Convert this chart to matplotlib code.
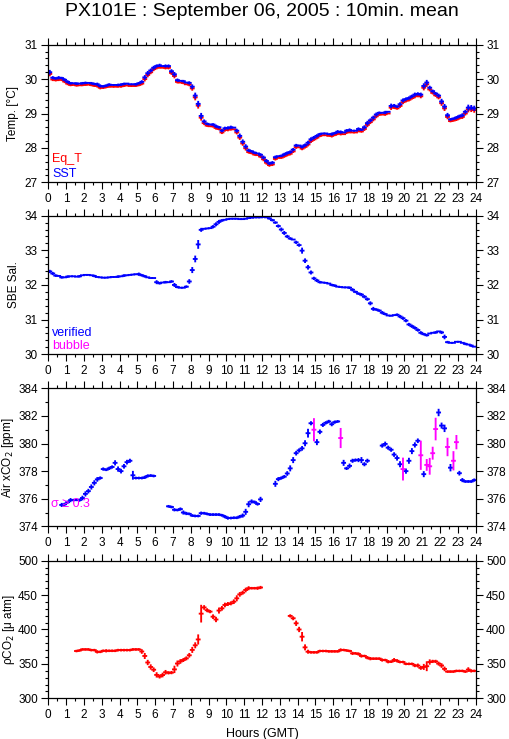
import numpy as np
import matplotlib
matplotlib.use("Agg")
import matplotlib.pyplot as plt
from matplotlib.ticker import MultipleLocator, FormatStrFormatter

plt.rcParams['font.family'] = ['Liberation Sans', 'DejaVu Sans']

# ---------------- data (10-minute means, 144 bins per day) ----------------
hours = np.arange(144) / 6 + 1 / 12      # bin centres in hours (GMT)
half_bin = 1 / 12                         # +/- 5 minutes
nan = np.nan

sst = [30.20, 30.04, 30.02, 30.04, 30.03, 29.98,
       29.92, 29.88, 29.88, 29.87, 29.87, 29.88,
       29.89, 29.89, 29.88, 29.86, 29.85, 29.80,
       29.79, 29.81, 29.84, 29.83, 29.83, 29.83,
       29.84, 29.86, 29.87, 29.85, 29.85, 29.85,
       29.88, 29.92, 30.05, 30.17, 30.25, 30.33,
       30.38, 30.40, 30.38, 30.38, 30.38, 30.23,
       30.14, 29.97, 29.95, 29.94, 29.90, 29.89,
       29.78, 29.52, 29.28, 28.93, 28.77, 28.70,
       28.68, 28.68, 28.63, 28.60, 28.50, 28.57,
       28.58, 28.60, 28.59, 28.50, 28.35, 28.18,
       28.04, 27.93, 27.90, 27.86, 27.84, 27.80,
       27.72, 27.62, 27.55, 27.57, 27.73, 27.76,
       27.77, 27.81, 27.85, 27.88, 27.95, 28.07,
       28.07, 28.03, 28.08, 28.15, 28.25, 28.30,
       28.35, 28.40, 28.42, 28.42, 28.40, 28.40,
       28.43, 28.47, 28.46, 28.45, 28.50, 28.52,
       28.50, 28.50, 28.55, 28.53, 28.60, 28.72,
       28.80, 28.88, 28.97, 29.02, 29.02, 29.03,
       29.05, 29.22, 29.23, 29.20, 29.27, 29.38,
       29.42, 29.45, 29.50, 29.55, 29.57, 29.55,
       29.80, 29.90, 29.75, 29.65, 29.58, 29.52,
       29.35, 29.20, 28.95, 28.83, 28.85, 28.88,
       28.92, 28.95, 29.05, 29.17, 29.17, 29.15]

eq_t = [30.15, 29.99, 29.97, 29.99, 29.98, 29.93,
        29.87, 29.83, 29.83, 29.82, 29.82, 29.83,
        29.84, 29.84, 29.83, 29.81, 29.80, 29.75,
        29.75, 29.77, 29.79, 29.78, 29.78, 29.79,
        29.79, 29.81, 29.82, 29.80, 29.80, 29.81,
        29.83, 29.87, 30.00, 30.12, 30.20, 30.29,
        30.33, 30.35, 30.33, 30.33, 30.33, 30.18,
        30.09, 29.92, 29.90, 29.89, 29.85, 29.84,
        29.73, 29.47, 29.23, 28.88, 28.72, 28.65,
        28.63, 28.63, 28.58, 28.55, 28.45, 28.52,
        28.53, 28.55, 28.54, 28.45, 28.30, 28.13,
        27.99, 27.88, 27.85, 27.81, 27.79, 27.75,
        27.67, 27.57, 27.50, 27.52, 27.68, 27.71,
        27.72, 27.76, 27.80, 27.83, 27.90, 28.02,
        28.02, 27.98, 28.03, 28.10, 28.20, 28.25,
        28.30, 28.35, 28.37, 28.37, 28.35, 28.35,
        28.38, 28.42, 28.41, 28.40, 28.45, 28.47,
        28.45, 28.45, 28.50, 28.48, 28.55, 28.67,
        28.75, 28.83, 28.92, 28.97, 28.97, 28.98,
        29.00, 29.17, 29.18, 29.15, 29.22, 29.33,
        29.37, 29.40, 29.45, 29.50, 29.52, 29.50,
        29.75, 29.85, 29.70, 29.60, 29.53, 29.47,
        29.30, 29.15, 28.90, 28.78, 28.80, 28.83,
        28.87, 28.90, 29.00, 29.12, 29.12, 29.10]

temp_err = [0.04, 0.02, 0.01, 0.02, 0.01, 0.02,
            0.02, 0.01, 0.00, 0.01, 0.00, 0.01,
            0.01, 0.00, 0.01, 0.01, 0.02, 0.02,
            0.01, 0.01, 0.01, 0.00, 0.00, 0.01,
            0.01, 0.01, 0.00, 0.00, 0.00, 0.01,
            0.01, 0.02, 0.04, 0.04, 0.03, 0.03,
            0.02, 0.02, 0.00, 0.02, 0.02, 0.03,
            0.04, 0.02, 0.00, 0.01, 0.00, 0.02,
            0.04, 0.06, 0.06, 0.06, 0.03, 0.01,
            0.00, 0.01, 0.02, 0.01, 0.02, 0.02,
            0.02, 0.02, 0.00, 0.03, 0.04, 0.04,
            0.04, 0.02, 0.01, 0.01, 0.00, 0.02,
            0.03, 0.03, 0.02, 0.02, 0.02, 0.00,
            0.01, 0.02, 0.02, 0.02, 0.02, 0.02,
            0.00, 0.02, 0.02, 0.03, 0.03, 0.02,
            0.02, 0.01, 0.00, 0.00, 0.00, 0.02,
            0.01, 0.02, 0.02, 0.00, 0.02, 0.02,
            0.00, 0.00, 0.02, 0.01, 0.03, 0.04,
            0.03, 0.03, 0.03, 0.01, 0.00, 0.02,
            0.00, 0.04, 0.02, 0.01, 0.03, 0.03,
            0.02, 0.02, 0.02, 0.03, 0.02, 0.03,
            0.05, 0.05, 0.03, 0.02, 0.02, 0.03,
            0.05, 0.05, 0.04, 0.01, 0.01, 0.02,
            0.02, 0.03, 0.03, 0.06, 0.05, 0.05]

sal = [32.39, 32.33, 32.27, 32.26, 32.22, 32.22,
       32.24, 32.25, 32.25, 32.24, 32.25, 32.28,
       32.29, 32.29, 32.28, 32.26, 32.23, 32.22,
       32.21, 32.21, 32.22, 32.23, 32.23, 32.24,
       32.25, 32.27, 32.28, 32.29, 32.30, 32.31,
       32.31, 32.28, 32.25, 32.22, 32.20, 32.20,
       32.08, 32.05, 32.07, 32.08, 32.08, 32.10,
       32.00, 31.94, 31.92, 31.92, 31.95, 32.10,
       32.43, 32.75, 33.17, 33.59, 33.62, 33.63,
       33.64, 33.68, 33.75, 33.82, 33.86, 33.88,
       33.90, 33.91, 33.91, 33.91, 33.90, 33.90,
       33.91, 33.93, 33.94, 33.95, 33.95, 33.95,
       33.96, 33.95, 33.92, 33.87, 33.80, 33.70,
       33.60, 33.50, 33.40, 33.34, 33.31, 33.23,
       33.15, 32.99, 32.70, 32.51, 32.36, 32.19,
       32.13, 32.08, 32.07, 32.06, 32.04, 32.00,
       31.98, 31.95, 31.94, 31.93, 31.93, 31.92,
       31.86, 31.80, 31.75, 31.72, 31.66, 31.59,
       31.47, 31.31, 31.29, 31.26, 31.20, 31.16,
       31.12, 31.11, 31.13, 31.14, 31.09, 31.04,
       30.97, 30.86, 30.81, 30.76, 30.70, 30.62,
       30.58, 30.55, 30.60, 30.62, 30.63, 30.66,
       30.63, 30.50, 30.35, 30.33, 30.33, 30.36,
       30.36, 30.33, 30.30, 30.28, 30.25, 30.22]

sal_err = [0.02, 0.02, 0.01, 0.00, 0.01, 0.00,
           0.01, 0.00, 0.00, 0.00, 0.01, 0.00,
           0.00, 0.00, 0.00, 0.01, 0.00, 0.00,
           0.00, 0.00, 0.00, 0.00, 0.00, 0.01,
           0.00, 0.01, 0.00, 0.00, 0.00, 0.00,
           0.02, 0.01, 0.01, 0.00, 0.00, 0.00,
           0.03, 0.01, 0.00, 0.01, 0.00, 0.01,
           0.03, 0.01, 0.00, 0.00, 0.01, 0.04,
           0.06, 0.07, 0.10, 0.03, 0.00, 0.00,
           0.00, 0.02, 0.03, 0.03, 0.01, 0.00,
           0.00, 0.00, 0.00, 0.00, 0.00, 0.00,
           0.00, 0.00, 0.00, 0.00, 0.00, 0.00,
           0.00, 0.00, 0.01, 0.01, 0.01, 0.02,
           0.03, 0.03, 0.02, 0.01, 0.00, 0.02,
           0.02, 0.06, 0.04, 0.04, 0.03, 0.02,
           0.02, 0.01, 0.00, 0.00, 0.00, 0.01,
           0.01, 0.00, 0.00, 0.00, 0.00, 0.01,
           0.02, 0.01, 0.01, 0.02, 0.02, 0.02,
           0.03, 0.03, 0.01, 0.01, 0.02, 0.01,
           0.00, 0.00, 0.00, 0.01, 0.02, 0.02,
           0.02, 0.02, 0.02, 0.02, 0.02, 0.02,
           0.01, 0.01, 0.00, 0.00, 0.01, 0.00,
           0.02, 0.04, 0.01, 0.00, 0.00, 0.00,
           0.00, 0.00, 0.01, 0.00, 0.01, 0.00]

xco2 = [nan, nan, nan, nan, 375.55, 375.60,
        375.75, 375.90, 375.90, 375.92, 375.90, 376.05,
        376.35, 376.55, 376.85, 377.15, 377.40, 377.50,
        378.15, 378.10, 378.20, 378.30, 378.60, 378.15,
        378.00, 378.35, 378.65, 378.75, 377.70, 377.50,
        377.50, 377.50, 377.55, 377.65, 377.68, 377.65,
        nan, nan, nan, nan, 375.45, 375.40,
        375.20, 375.18, 375.25, 375.00, 374.93, 374.90,
        374.78, 374.75, 374.75, 374.95, 374.95, 374.90,
        374.85, 374.85, 374.85, 374.85, 374.80, 374.70,
        374.60, 374.60, 374.62, 374.62, 374.70, 374.78,
        375.05, 375.60, 375.80, 375.75, 375.62, 375.95,
        nan, nan, nan, nan, 377.08, 377.42,
        377.50, 377.60, 377.83, 378.20, 378.80, 379.30,
        379.50, 379.65, 380.02, 380.75, 381.47, 381.00,
        380.10, 380.85, 381.35, 381.50, 381.60, 381.40,
        381.55, 381.60, 380.40, 378.60, 378.20, 378.38,
        378.75, 378.80, 378.80, 378.80, 378.50, 378.75,
        nan, nan, nan, nan, 379.85, 379.97,
        379.70, 379.55, 379.20, 378.95, 378.50, 378.15,
        378.00, 378.75, 379.45, 379.90, 380.20, 379.15,
        377.78, 378.45, 378.35, 379.30, 381.05, 382.25,
        381.30, 381.10, 379.75, 378.25, 378.75, 380.10,
        377.85, 377.35, 377.25, 377.25, 377.25, 377.35]

xco2_err = [0.00, 0.00, 0.00, 0.00, 0.08, 0.05,
            0.05, 0.08, 0.03, 0.03, 0.05, 0.10,
            0.12, 0.10, 0.12, 0.12, 0.10, 0.05,
            0.05, 0.03, 0.05, 0.05, 0.12, 0.12,
            0.10, 0.10, 0.10, 0.08, 0.25, 0.03,
            0.03, 0.03, 0.05, 0.05, 0.03, 0.03,
            0.00, 0.00, 0.00, 0.00, 0.03, 0.03,
            0.05, 0.03, 0.05, 0.08, 0.05, 0.03,
            0.03, 0.03, 0.03, 0.05, 0.03, 0.03,
            0.03, 0.03, 0.03, 0.03, 0.03, 0.05,
            0.05, 0.03, 0.03, 0.03, 0.05, 0.08,
            0.15, 0.15, 0.08, 0.05, 0.05, 0.12,
            0.00, 0.00, 0.00, 0.00, 0.15, 0.08,
            0.05, 0.05, 0.10, 0.15, 0.15, 0.10,
            0.08, 0.10, 0.15, 0.25, 0.08, 0.77,
            0.15, 0.10, 0.08, 0.05, 0.05, 0.08,
            0.05, 0.03, 0.66, 0.15, 0.05, 0.10,
            0.08, 0.05, 0.08, 0.15, 0.08, 0.08,
            0.00, 0.00, 0.00, 0.00, 0.08, 0.10,
            0.08, 0.08, 0.10, 0.12, 0.15, 0.76,
            0.12, 0.15, 0.15, 0.12, 0.10, 0.99,
            0.15, 0.36, 0.54, 0.40, 0.75, 0.20,
            0.15, 0.20, 0.60, 0.20, 0.63, 0.45,
            0.10, 0.08, 0.03, 0.03, 0.03, 0.05]

pco2 = [nan, nan, nan, nan, nan, nan,
        nan, nan, nan, 368.7, 369.5, 371.0,
        371.0, 371.0, 370.0, 370.0, 367.5, 367.5,
        369.0, 369.0, 369.0, 369.0, 369.0, 370.0,
        370.0, 370.0, 370.0, 370.0, 371.0, 371.0,
        371.0, 368.0, 361.5, 352.0, 345.5, 341.5,
        334.0, 331.6, 333.8, 337.8, 337.0, 337.3,
        342.0, 350.5, 353.5, 355.6, 358.0, 362.5,
        370.3, 377.0, 385.5, 423.0, 432.0, 428.0,
        426.0, 418.6, 414.5, 427.5, 430.7, 435.6,
        437.0, 438.0, 440.4, 445.3, 451.0, 453.5,
        457.4, 460.0, 460.0, 460.0, 460.0, 461.0,
        nan, nan, nan, nan, nan, nan,
        nan, nan, nan, 419.7, 416.3, 409.0,
        400.0, 389.5, 374.0, 367.7, 366.8, 366.8,
        366.8, 368.7, 368.7, 368.7, 368.2, 368.2,
        368.2, 368.2, 370.2, 370.2, 369.5, 368.7,
        365.3, 365.3, 364.4, 361.5, 361.5, 359.0,
        357.6, 357.6, 357.6, 357.6, 355.6, 355.6,
        353.2, 353.2, 355.6, 354.5, 352.7, 352.7,
        350.0, 350.0, 350.0, 347.6, 347.6, 344.2,
        345.6, 346.6, 352.7, 353.6, 353.6, 350.4,
        347.6, 342.7, 338.8, 338.8, 338.8, 339.8,
        339.8, 339.8, 338.8, 341.7, 339.8, 339.8]

pco2_err = [0, 0, 0, 0, 0, 0,
            0, 0, 0, 0.5, 0.5, 0.5,
            0.5, 0.5, 0.5, 0.5, 1.0, 0.5,
            0.5, 1.0, 0.5, 0.5, 0.5, 0.5,
            0.5, 0.5, 0.5, 0.5, 0.5, 0.5,
            0.5, 2.0, 3.0, 2.5, 2.5, 2.0,
            2.5, 1.5, 2.0, 2.0, 1.0, 1.0,
            4.0, 3.0, 2.0, 1.5, 1.5, 2.0,
            3.0, 3.0, 6.0, 11.5, 2.0, 1.5,
            1.0, 2.0, 2.5, 3.0, 2.0, 2.0,
            1.5, 1.5, 2.0, 3.0, 2.0, 1.5,
            2.0, 1.5, 0.5, 0.5, 1.0, 1.0,
            0, 0, 0, 0, 0, 0,
            0, 0, 0, 1.0, 1.5, 2.5,
            2.5, 5.5, 3.0, 1.5, 0.5, 0.5,
            0.5, 0.5, 0.5, 0.5, 0.5, 0.5,
            0.5, 0.5, 1.0, 0.5, 0.5, 0.5,
            1.0, 0.5, 1.0, 1.0, 0.5, 1.0,
            1.0, 0.5, 0.5, 0.5, 1.0, 0.5,
            1.0, 0.5, 1.5, 1.0, 0.5, 0.5,
            0.5, 0.5, 0.5, 1.0, 1.5, 1.5,
            3.0, 5.8, 2.5, 1.0, 1.0, 1.5,
            2.0, 2.0, 0.5, 0.5, 0.5, 0.5,
            0.5, 0.5, 0.5, 2.0, 1.0, 0.5]

sigma_limit = 0.3
hour_ticks = list(range(0, 25))

RED = '#ff0000'
BLUE = '#0000ff'
MAGENTA = '#ff00ff'

TICK_FS = 8.5
LABEL_FS = 8.5
NOTE_FS = 9

# ---------------- figure ----------------
fig = plt.figure(figsize=(5.09, 7.39), dpi=100)
left, width = 0.0949, 0.8397
ax1 = fig.add_axes([left, 0.7533, width, 0.1862])
ax2 = fig.add_axes([left, 0.5206, width, 0.1876])
ax3 = fig.add_axes([left, 0.2878, width, 0.1867])
ax4 = fig.add_axes([left, 0.0551, width, 0.1862])

LW = 1.35


def bars(ax, y, err, color):
    y = np.asarray(y, dtype=float)
    cont = ax.errorbar(hours, y, xerr=half_bin, yerr=np.asarray(err, dtype=float),
                       fmt='none', ecolor=color, elinewidth=LW, capsize=0)
    for lc in cont.lines[2]:
        lc.set_capstyle('projecting')
        lc.set_snap(False)


def style(ax, ylim, major, minor, label, label_x):
    ax.set_xlim(0, 24)
    ax.set_ylim(*ylim)
    ax.set_xticks(hour_ticks)
    ax.xaxis.set_minor_locator(MultipleLocator(0.5))
    ax.yaxis.set_major_locator(MultipleLocator(major))
    ax.yaxis.set_minor_locator(MultipleLocator(minor))
    ax.yaxis.set_major_formatter(FormatStrFormatter('%d'))
    ax.tick_params(which='both', direction='out', top=True, right=True,
                   labelright=True, labelsize=TICK_FS, width=0.8, colors='black')
    ax.tick_params(which='major', length=5, pad=2.5)
    ax.tick_params(which='minor', length=2.5)
    for s in ax.spines.values():
        s.set_linewidth(0.9)
    ax.set_ylabel(label, fontsize=LABEL_FS, va='center')
    ax.yaxis.set_label_coords(label_x, 0.5)


# panel 1: temperatures
bars(ax1, eq_t, temp_err, RED)
bars(ax1, sst, temp_err, BLUE)
style(ax1, (27, 31), 1, 0.2, 'Temp. [°C]', -0.0815)
ax1.text(0.009, 0.145, 'Eq_T', color=RED, fontsize=NOTE_FS, transform=ax1.transAxes,
         ha='left', va='baseline')
ax1.text(0.009, 0.041, 'SST', color=BLUE, fontsize=NOTE_FS, transform=ax1.transAxes,
         ha='left', va='baseline')

# panel 2: salinity
bars(ax2, sal, sal_err, BLUE)
style(ax2, (30, 34), 1, 0.2, 'SBE Sal.', -0.081)
ax2.text(0.009, 0.134, 'verified', color=BLUE, fontsize=NOTE_FS, transform=ax2.transAxes,
         ha='left', va='baseline')
ax2.text(0.009, 0.040, 'bubble', color=MAGENTA, fontsize=NOTE_FS, transform=ax2.transAxes,
         ha='left', va='baseline')

# panel 3: atmospheric xCO2
xc = np.asarray(xco2, dtype=float)
xe = np.asarray(xco2_err, dtype=float)
good = xe < sigma_limit
bars(ax3, np.where(good, xc, np.nan), xe, BLUE)
bars(ax3, np.where(~good, xc, np.nan), xe, MAGENTA)
style(ax3, (374, 384), 2, 1, 'Air xCO$_2$ [ppm]', -0.094)
ax3.text(0.006, 0.138, 'σ ≥ 0.3', color=MAGENTA, fontsize=NOTE_FS, transform=ax3.transAxes,
         ha='left', va='baseline')

# panel 4: pCO2
bars(ax4, pco2, pco2_err, RED)
style(ax4, (300, 500), 50, 10, 'ρCO$_2$ [μ atm]', -0.091)
ax4.set_xlabel('Hours (GMT)', fontsize=9)
ax4.xaxis.set_label_coords(0.5, -0.215)

fig.text(262 / 509, 1 - 12 / 739, 'PX101E : September 06, 2005 : 10min. mean',
         ha='center', va='center', fontsize=14)

fig.savefig('out.png', dpi=100)
